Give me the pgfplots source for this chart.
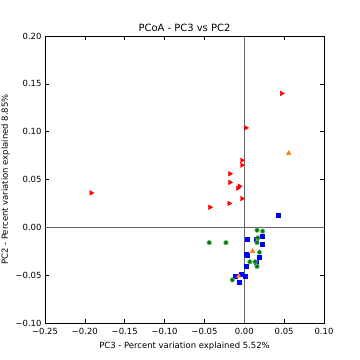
\documentclass[border=0pt]{standalone}
\usepackage{pgfplots}
\pgfplotsset{compat=1.18}
\usepackage{fontspec}
\setmainfont{DejaVu Sans}
\definecolor{mred}{RGB}{255,0,0}
\definecolor{mblue}{RGB}{0,0,255}
\definecolor{mgreen}{RGB}{0,128,0}
\definecolor{morange}{RGB}{255,127,14}
\begin{document}
\begin{tikzpicture}
\path[use as bounding box] (-45bp,-37bp) rectangle (315bp,323bp);
\begin{axis}[
  scale only axis, width=279bp, height=287bp,
  anchor=south west, at={(0,0)},
  xmin=-0.25, xmax=0.10, ymin=-0.10, ymax=0.20,
  xtick={-0.25,-0.20,-0.15,-0.10,-0.05,0,0.05,0.10},
  xticklabels={−0.25,−0.20,−0.15,−0.10,−0.05,0.00,0.05,0.10},
  ytick={-0.10,-0.05,0,0.05,0.10,0.15,0.20},
  yticklabels={−0.10,−0.05,0.00,0.05,0.10,0.15,0.20},
  tick align=inside, major tick length=4bp,
  tick style={black, line width=0.6pt},
  axis line style={black, line width=0.6pt},
  ticklabel style={font=\fontsize{8.5}{10}\selectfont},
  xticklabel style={yshift=-1.5bp},
  title={PCoA - PC3 vs PC2},
  title style={font=\fontsize{10}{12}\selectfont, yshift=-5bp},
  xlabel={PC3 - Percent variation explained 5.52\%},
  ylabel={PC2 - Percent variation explained 8.85\%},
  label style={font=\fontsize{8.5}{10}\selectfont},
  xlabel style={yshift=-1bp},
  ylabel style={yshift=-1bp},
  clip=false,
]
\addplot[gray!80!black, line width=0.8pt] coordinates {(0,-0.10) (0,0.20)};
\addplot[gray!80!black, line width=0.6pt] coordinates {(-0.25,0) (0.10,0)};
% red
\addplot[only marks, mark=triangle*, mark size=2.7bp, color=mred,
  every mark/.append style={rotate=-90, fill=mred}] coordinates {
(0.047,0.140) (0.002,0.104) (-0.003,0.070) (-0.003,0.065) (-0.018,0.056)
(-0.018,0.047) (-0.008,0.041) (-0.006,0.043) (-0.003,0.030) (-0.019,0.025)
(-0.043,0.021) (-0.192,0.036)};
% blue
\addplot[only marks, mark=square*, mark size=2bp, color=mblue,
  every mark/.append style={fill=mblue}] coordinates {
(0.042,0.013) (0.023,-0.009) (0.004,-0.012) (0.0155,-0.0125) (0.022,-0.018)
(0.004,-0.029) (0.003,-0.028) (0.019,-0.031) (0.015,-0.036) (0.003,-0.041)
(-0.012,-0.051) (-0.004,-0.049) (0.001,-0.051) (-0.007,-0.057)};
% green
\addplot[only marks, mark=*, mark size=2.3bp, draw=mgreen!50, line width=0.5pt,
  every mark/.append style={fill=mgreen}] coordinates {
(0.016,-0.003) (0.023,-0.004) (0.017,-0.011) (0.016,-0.016) (-0.044,-0.016)
(-0.023,-0.016) (0.019,-0.026) (0.007,-0.036) (0.0135,-0.036) (0.016,-0.041)
(-0.015,-0.055)};
% orange
\addplot[only marks, mark=triangle*, mark size=2.7bp, color=morange,
  every mark/.append style={fill=morange}] coordinates {
(0.0557,0.0774) (0.0105,-0.025) (-0.007,-0.051)};
\end{axis}
\end{tikzpicture}
\end{document}
